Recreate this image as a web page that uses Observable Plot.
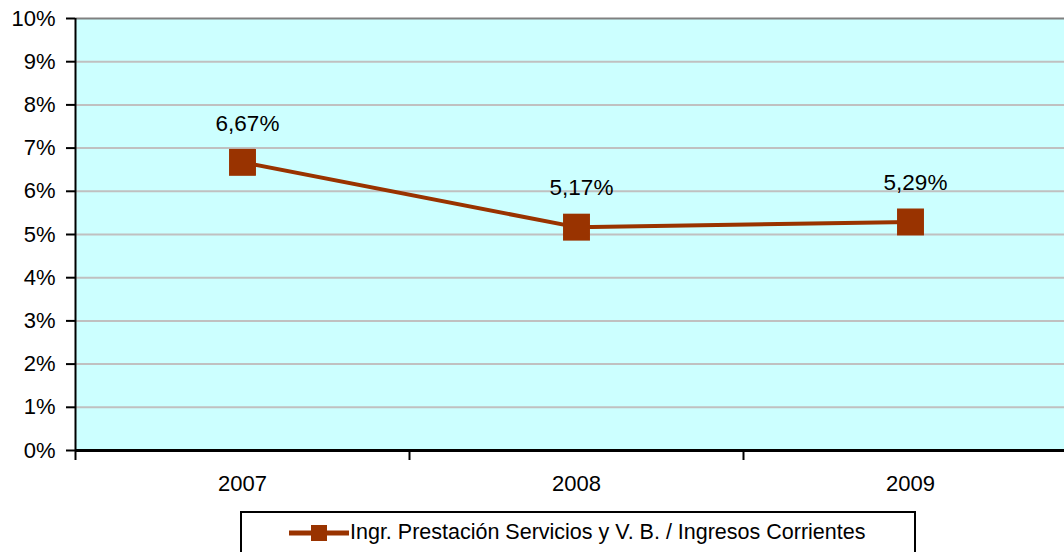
<!DOCTYPE html>
<html>
<head>
<meta charset="utf-8">
<script src="https://cdn.jsdelivr.net/npm/d3@7"></script>
<script src="https://cdn.jsdelivr.net/npm/@observablehq/plot@0.6"></script>
<style>
  html, body { margin: 0; padding: 0; background: #fff; }
  body { width: 1064px; height: 552px; overflow: hidden; position: relative; font-family: "Liberation Sans", Arial, sans-serif; }
  #chart { position: absolute; left: 0; top: 0; }
  #legend { position: absolute; left: 240px; top: 511px; width: 676px; height: 50px; border: 2px solid #000; box-sizing: border-box; background: #fff; }
  #legend .item { position: absolute; left: 47px; top: 7px; display: flex; align-items: center; font-size: 21.5px; color: #000; white-space: nowrap; }
</style>
</head>
<body>
<div id="chart"></div>
<div id="legend"><div class="item"><svg width="60" height="22" style="display:block"><line x1="0" x2="60" y1="11" y2="11" stroke="#993300" stroke-width="5"/><rect x="22" y="3" width="16" height="16" fill="#993300"/></svg><span style="margin-left:1px">Ingr. Prestación Servicios y V. B. / Ingresos Corrientes</span></div></div>
<script>
const years = ["2007", "2008", "2009"];
const values = [6.67, 5.17, 5.29];
const labels = ["6,67%", "5,17%", "5,29%"];
const yTicks = [0, 1, 2, 3, 4, 5, 6, 7, 8, 9, 10];
const seriesName = "Ingr. Prestación Servicios y V. B. / Ingresos Corrientes";

const data = years.map((y, i) => ({ i, year: y, value: values[i], label: labels[i] }));
const bounds = d3.range(years.length + 1).map(k => k - 0.5);
const innerGrid = yTicks.filter(t => t > 0 && t < 10);

const chart = Plot.plot({
  width: 1064,
  height: 500,
  marginLeft: 75,
  marginRight: -13,
  marginTop: 18,
  marginBottom: 50,
  style: { fontFamily: "'Liberation Sans', Arial, sans-serif", fontSize: "22px", color: "#000", background: "transparent", overflow: "hidden" },
  x: { type: "linear", domain: [-0.5, years.length - 0.5] },
  y: { domain: [0, 10] },
  marks: [
    Plot.frame({ fill: "#CCFFFF", stroke: null }),
    Plot.ruleY(innerGrid, { stroke: "#C0C0C0", strokeWidth: 2 }),
    Plot.ruleY([10], { stroke: "#808080", strokeWidth: 2 }),
    Plot.axisY({ ticks: yTicks, tickFormat: d => d + "%", tickSize: 9, tickPadding: 11, stroke: "#000", strokeWidth: 2, label: null, fontSize: 22 }),
    Plot.axisX({ ticks: bounds.slice(0, -1), tickFormat: () => "", tickSize: 10, stroke: "#000", strokeWidth: 2, label: null }),
    Plot.axisX({ ticks: d3.range(years.length), tickFormat: k => years[k], tickSize: 0, tickPadding: 25, label: null, fontSize: 22 }),
    Plot.ruleX([-0.5], { stroke: "#000", strokeWidth: 2 }),
    Plot.ruleY([0], { stroke: "#000", strokeWidth: 3 }),
    Plot.line(data, { x: "i", y: "value", stroke: "#993300", strokeWidth: 4 }),
    Plot.dot(data, { x: "i", y: "value", symbol: "square", r: 15.2, fill: "#993300", stroke: null }),
    Plot.text(data, { x: "i", y: "value", text: "label", dy: -39, dx: 5, fontSize: 22.5, fill: "#000" })
  ]
});
document.getElementById("chart").appendChild(chart);
</script>
</body>
</html>
